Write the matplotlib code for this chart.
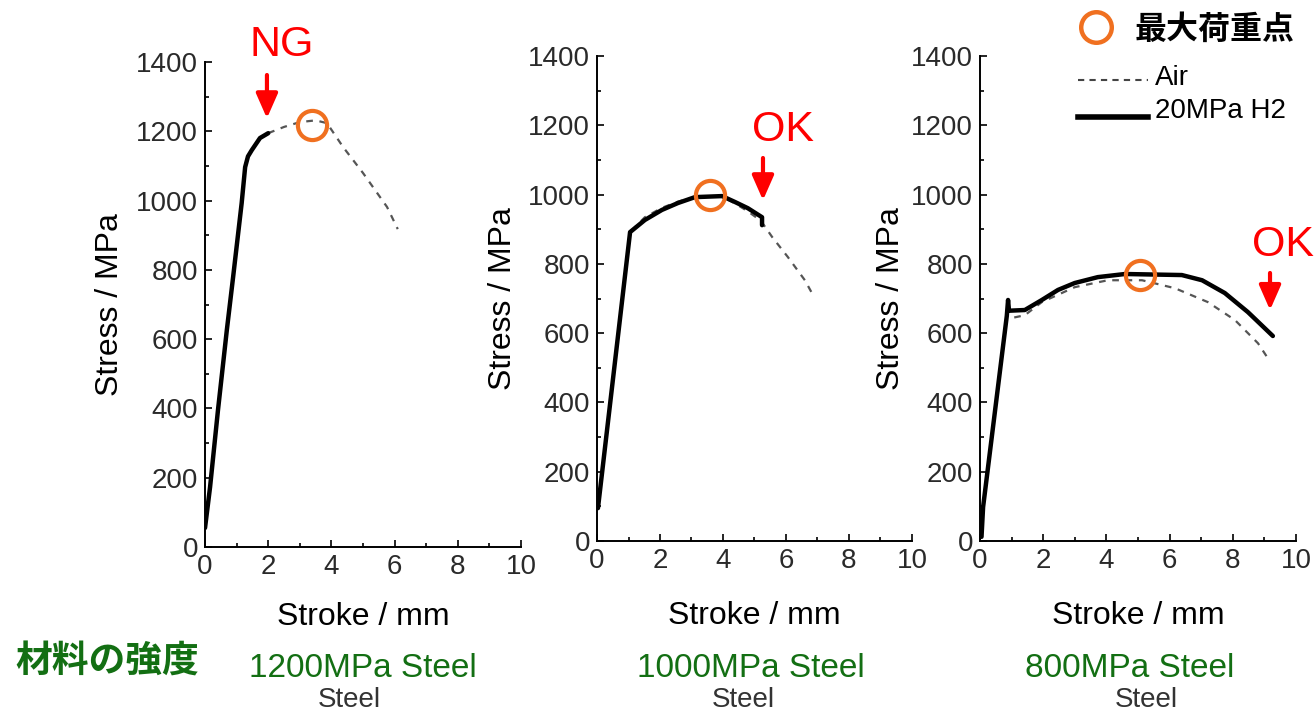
import matplotlib.pyplot as plt
from matplotlib.ticker import MultipleLocator

plt.rcParams['font.family'] = ['Liberation Sans', 'DejaVu Sans']

# 1200MPa steel
h2_x_1200 = [0.0, 0.16, 0.41, 0.69, 0.89, 1.16, 1.27, 1.36, 1.48, 1.74, 2.0]
h2_y_1200 = [55, 173, 395, 626, 780, 993, 1097, 1128, 1146, 1181, 1195]
air_x_1200 = [2.0, 2.5, 3.0, 3.5, 3.86, 4.37, 5.0, 5.76, 6.1]
air_y_1200 = [1195, 1213, 1227, 1232, 1224, 1155, 1080, 982, 918]

# 1000MPa steel
h2_x_1000 = [0.03, 1.05, 1.52, 2.06, 2.57, 3.11, 3.97, 4.38, 4.79, 5.24, 5.24]
h2_y_1000 = [95, 892, 927, 956, 976, 993, 996, 979, 961, 935, 912]
air_x_1000 = [0.03, 1.05, 1.52, 2.06, 2.57, 3.11, 3.97, 4.38, 4.79, 5.2, 5.56, 6.06, 6.6, 6.86]
air_y_1000 = [95, 892, 935, 962, 980, 993, 995, 975, 952, 925, 878, 820, 753, 710]

# 800MPa steel
h2_x_800 = [0.05, 0.1, 0.85, 0.89, 0.92, 1.42, 1.96, 2.47, 3.0, 3.73, 4.59, 6.39, 7.03, 7.75, 8.48, 9.27]
h2_y_800 = [12, 98, 650, 696, 665, 667, 696, 725, 745, 762, 771, 768, 753, 716, 661, 592]
air_x_800 = [0.05, 0.1, 0.85, 1.01, 1.42, 1.96, 3.0, 4.05, 5.13, 6.17, 7.21, 8.07, 8.8, 9.11]
air_y_800 = [12, 98, 640, 644, 652, 690, 733, 753, 753, 730, 690, 638, 571, 528]

# max load points
max_x = [3.39, 3.59, 5.06]
max_y = [1218, 999, 768]

panel_names = ['1200MPa Steel', '1000MPa Steel', '800MPa Steel']
marks = ['NG', 'OK', 'OK']
arrow_x = [1.96, 5.27, 9.18]
arrow_top = [1363, 1106, 774]
arrow_tip = [1238, 984, 667]
mark_pos = [(2.44, 1450), (5.9, 1186), (9.6, 855)]

h2_x = [h2_x_1200, h2_x_1000, h2_x_800]
h2_y = [h2_y_1200, h2_y_1000, h2_y_800]
air_x = [air_x_1200, air_x_1000, air_x_800]
air_y = [air_y_1200, air_y_1000, air_y_800]

green = '#136f13'
orange = '#f07020'
tick_col = '#2a2a2a'

fig = plt.figure(figsize=(13.15, 7.14), dpi=100)
rects = [[0.1559, 0.2339, 0.2403, 0.679],
         [0.454, 0.2423, 0.2395, 0.679],
         [0.7452, 0.2423, 0.2403, 0.679]]
ylab_x = [-0.30, -0.30, -0.28]
xlab_y = [-0.145, -0.155, -0.155]
name_x = [0.276, 0.571, 0.859]
steel_x = [0.266, 0.565, 0.872]

for i in range(3):
    ax = fig.add_axes(rects[i])
    ax.plot(air_x[i], air_y[i], color='#555555', lw=1.6, ls=(0, (3, 3)))
    ax.plot(h2_x[i], h2_y[i], color='black', lw=3.2, solid_capstyle='round',
            solid_joinstyle='round')
    ax.plot(max_x[i], max_y[i], 'o', ms=21, mfc='none', mec=orange, mew=3, clip_on=False)
    ax.annotate('', xy=(arrow_x[i], arrow_tip[i]), xytext=(arrow_x[i], arrow_top[i]),
                arrowprops=dict(arrowstyle='-|>,head_length=0.5,head_width=0.22',
                                color='red', lw=3, mutation_scale=30,
                                shrinkA=0, shrinkB=0),
                annotation_clip=False)
    ax.text(mark_pos[i][0], mark_pos[i][1], marks[i], color='red', fontsize=31,
            ha='center', va='center', clip_on=False)

    ax.set_xlim(0, 10)
    ax.set_ylim(0, 1400)
    ax.xaxis.set_major_locator(MultipleLocator(2))
    ax.xaxis.set_minor_locator(MultipleLocator(1))
    ax.yaxis.set_major_locator(MultipleLocator(200))
    ax.yaxis.set_minor_locator(MultipleLocator(100))
    ax.tick_params(which='both', direction='in', labelsize=20, labelcolor=tick_col)
    ax.tick_params(axis='x', pad=5)
    ax.tick_params(axis='y', pad=5)
    ax.tick_params(which='major', length=5, width=1.2)
    ax.tick_params(which='minor', length=3, width=1.2)
    for s in ['top', 'right']:
        ax.spines[s].set_visible(False)
    for s in ['left', 'bottom']:
        ax.spines[s].set_linewidth(1.4)
    ax.set_ylabel('Stress / MPa', fontsize=23)
    ax.yaxis.set_label_coords(ylab_x[i], 0.5)
    ax.yaxis.label.set_va('center')
    ax.set_xlabel('Stroke / mm', fontsize=23)
    ax.xaxis.set_label_coords(0.5, xlab_y[i])
    ax.xaxis.label.set_va('center')

    fig.text(name_x[i], 0.064, panel_names[i], color=green, fontsize=24,
             ha='center', va='center')
    fig.text(steel_x[i], 0.02, 'Steel', color='#333333', fontsize=20,
             ha='center', va='center')

fig.text(0.0114, 0.073, '材料の強度', color=green, fontsize=26.5, fontweight='bold',
         family=['Noto Sans CJK JP', 'DejaVu Sans'], ha='left', va='center')

# legend
fig.lines.append(plt.Line2D([0.8335], [0.962], marker='o', ms=22, mfc='none',
                            mec=orange, mew=3.2, transform=fig.transFigure))
fig.text(0.863, 0.958, '最大荷重点', fontsize=23, fontweight='bold',
         family=['Noto Sans CJK JP', 'DejaVu Sans'], ha='left', va='center')
fig.lines.append(plt.Line2D([0.8198, 0.873], [0.888, 0.888], color='#444444', lw=1.5,
                            ls=(0, (3, 2.5)), transform=fig.transFigure))
fig.text(0.878, 0.891, 'Air', fontsize=20, ha='left', va='center')
fig.lines.append(plt.Line2D([0.8198, 0.873], [0.836, 0.836], color='black', lw=4,
                            transform=fig.transFigure))
fig.text(0.878, 0.845, '20MPa H2', fontsize=20, ha='left', va='center')

fig.savefig('out.png', dpi=100)
